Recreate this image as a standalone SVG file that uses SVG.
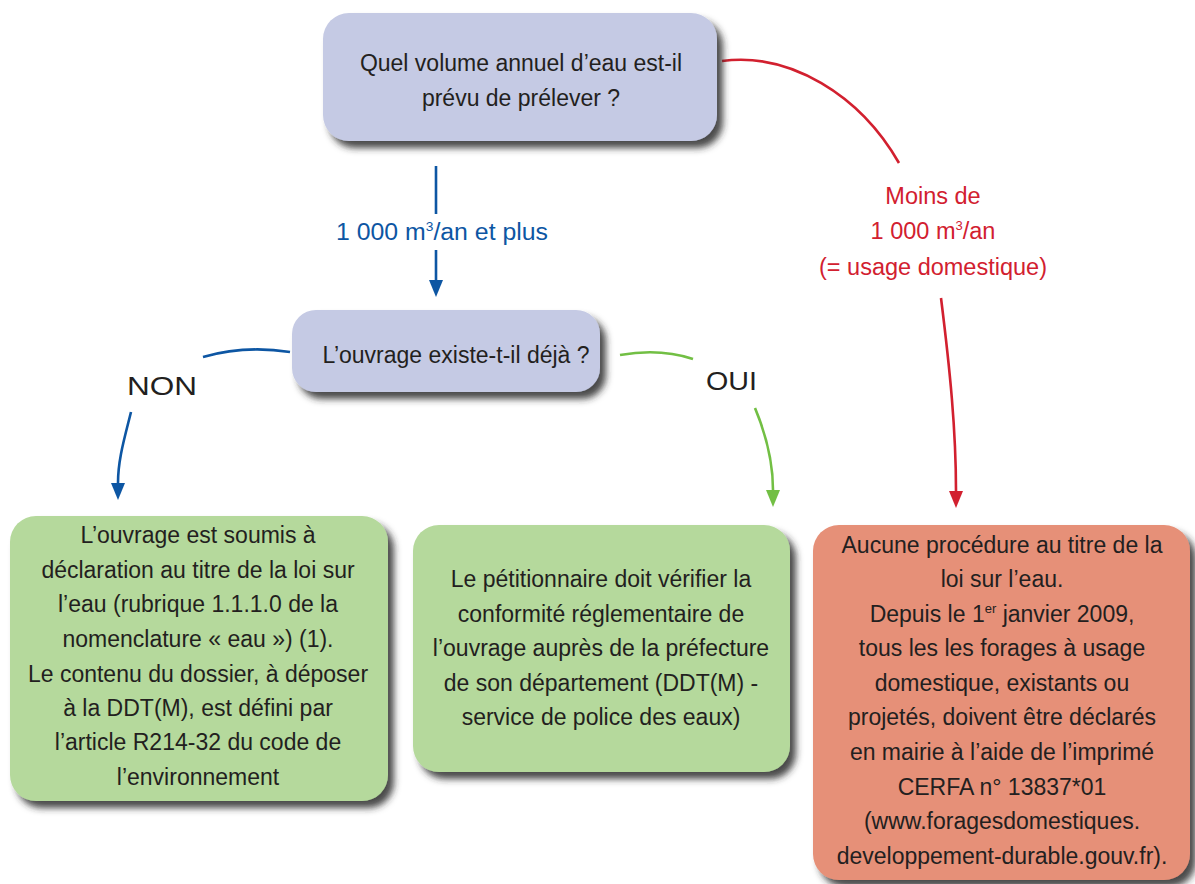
<svg xmlns="http://www.w3.org/2000/svg" width="1195" height="884" viewBox="0 0 1195 884">
<style>
.t{font-family:"Liberation Sans",Arial,sans-serif;font-size:23px;fill:#231f20;text-anchor:middle}
.lb{font-family:"Liberation Sans",Arial,sans-serif;font-size:23.5px;text-anchor:middle}
.big{font-family:"Liberation Sans",Arial,sans-serif;font-size:26px;fill:#231f20}
.q{fill:#c5cae4}
.g{fill:#b5d99c}
.r{fill:#e69078}
.c{fill:none;stroke-width:2.6}
.sup{font-size:13px}
</style>
<defs>
<filter id="sh" x="-10%" y="-10%" width="125%" height="130%">
<feDropShadow dx="6" dy="7" stdDeviation="3.5" flood-color="#2a2a2a" flood-opacity="0.85"/>
</filter>
<marker id="ab" markerWidth="17" markerHeight="14" refX="0" refY="7" orient="auto" markerUnits="userSpaceOnUse"><path d="M0,0 L17,7 L0,14 z" fill="#0d56a3"/></marker>
<marker id="ag" markerWidth="17" markerHeight="14" refX="0" refY="7" orient="auto" markerUnits="userSpaceOnUse"><path d="M0,0 L17,7 L0,14 z" fill="#72bf44"/></marker>
<marker id="ar" markerWidth="17" markerHeight="14" refX="0" refY="7" orient="auto" markerUnits="userSpaceOnUse"><path d="M0,0 L17,7 L0,14 z" fill="#d2202f"/></marker>
</defs>
<rect width="1195" height="884" fill="#ffffff"/>

<g id="connectors">
<line class="c" x1="436" y1="166" x2="436" y2="214" stroke="#0d56a3"/>
<line class="c" x1="436" y1="250" x2="436" y2="280" stroke="#0d56a3" marker-end="url(#ab)"/>
<path class="c" d="M290,352 Q245,345 203,357" stroke="#0d56a3"/>
<path class="c" d="M131,412 C124,440 118,460 118,483" stroke="#0d56a3" marker-end="url(#ab)"/>
<path class="c" d="M620,355 Q660,348 693,359" stroke="#72bf44"/>
<path class="c" d="M755,408 C765,432 773,458 773,490" stroke="#72bf44" marker-end="url(#ag)"/>
<path class="c" d="M722,61 C790,52 860,95 899,163" stroke="#d2202f"/>
<path class="c" d="M941,298 C950,370 956,430 956,491" stroke="#d2202f" marker-end="url(#ar)"/>
<text class="lb" x="442" y="240" fill="#0d56a3" textLength="212" lengthAdjust="spacingAndGlyphs">1 000 m<tspan class="sup" dy="-9">3</tspan><tspan dy="9">/an et plus</tspan></text>
<text class="lb" x="933" y="204" fill="#d2202f">Moins de</text>
<text class="lb" x="933" y="239" fill="#d2202f">1 000 m<tspan class="sup" dy="-9">3</tspan><tspan dy="9">/an</tspan></text>
<text class="lb" x="933" y="275" fill="#d2202f">(= usage domestique)</text>
<text class="big" x="127" y="395" textLength="70" lengthAdjust="spacingAndGlyphs">NON</text>
<text class="big" x="706" y="390" textLength="51" lengthAdjust="spacingAndGlyphs">OUI</text>
</g>

<g id="q1">
<rect class="q" x="323" y="13" width="394" height="128" rx="26" filter="url(#sh)"/>
<text class="t" x="521" y="71">Quel volume annuel d’eau est-il</text>
<text class="t" x="521" y="106">prévu de prélever ?</text>
</g>

<g id="q2">
<rect class="q" x="292" y="310" width="308" height="82" rx="24" filter="url(#sh)"/>
<text class="t" x="456" y="363">L’ouvrage existe-t-il déjà ?</text>
</g>

<g id="non">
<rect class="g" x="10" y="516" width="378" height="285" rx="26" filter="url(#sh)"/>
<text class="t" x="198" y="543">L’ouvrage est soumis à</text>
<text class="t" x="198" y="578">déclaration au titre de la loi sur</text>
<text class="t" x="198" y="612">l’eau (rubrique 1.1.1.0 de la</text>
<text class="t" x="198" y="647">nomenclature « eau ») (1).</text>
<text class="t" x="198" y="682">Le contenu du dossier, à déposer</text>
<text class="t" x="198" y="716">à la DDT(M), est défini par</text>
<text class="t" x="198" y="750">l’article R214-32 du code de</text>
<text class="t" x="198" y="785">l’environnement</text>
</g>

<g id="oui">
<rect class="g" x="413" y="525" width="377" height="247" rx="26" filter="url(#sh)"/>
<text class="t" x="601" y="587">Le pétitionnaire doit vérifier la</text>
<text class="t" x="601" y="622">conformité réglementaire de</text>
<text class="t" x="601" y="656">l’ouvrage auprès de la préfecture</text>
<text class="t" x="601" y="691">de son département (DDT(M) -</text>
<text class="t" x="601" y="725">service de police des eaux)</text>
</g>

<g id="domestique">
<rect class="r" x="813" y="525" width="377" height="355" rx="26" filter="url(#sh)"/>
<text class="t" x="1002" y="553">Aucune procédure au titre de la</text>
<text class="t" x="1002" y="587">loi sur l’eau.</text>
<text class="t" x="1002" y="622">Depuis le 1<tspan class="sup" dy="-9">er</tspan><tspan dy="9"> janvier 2009,</tspan></text>
<text class="t" x="1002" y="656">tous les les forages à usage</text>
<text class="t" x="1002" y="691">domestique, existants ou</text>
<text class="t" x="1002" y="725">projetés, doivent être déclarés</text>
<text class="t" x="1002" y="760">en mairie à l’aide de l’imprimé</text>
<text class="t" x="1002" y="795">CERFA n° 13837*01</text>
<text class="t" x="1002" y="829">(www.foragesdomestiques.</text>
<text class="t" x="1002" y="864">developpement-durable.gouv.fr).</text>
</g>
</svg>
